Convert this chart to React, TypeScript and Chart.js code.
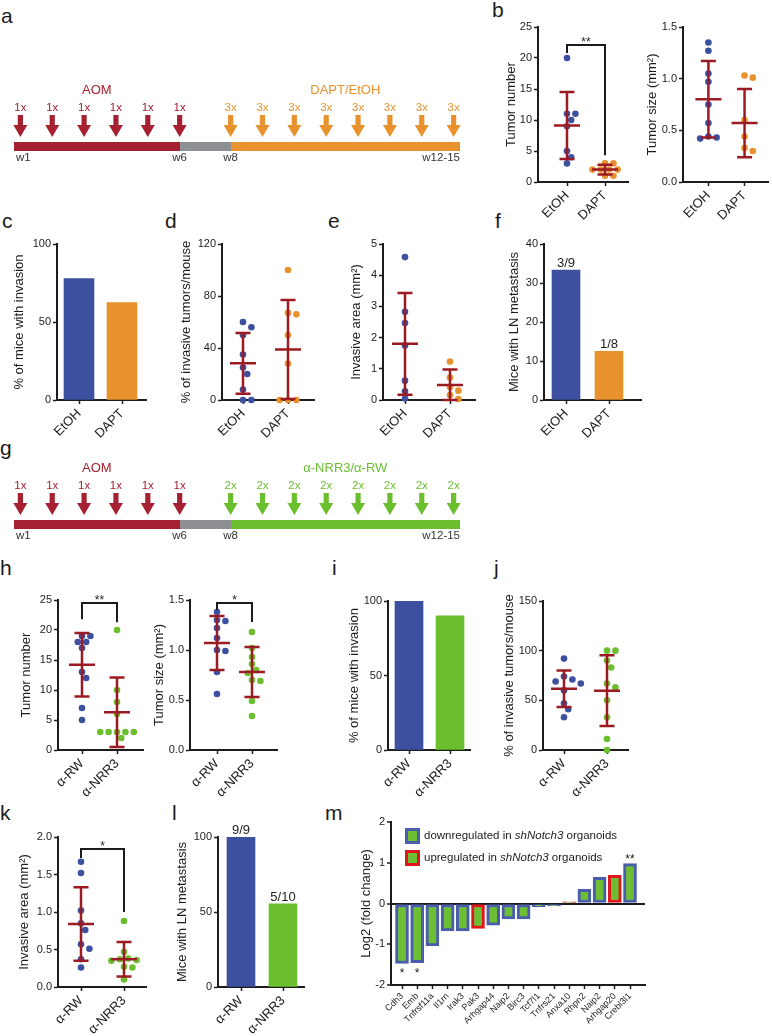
import React, { useEffect, useRef } from 'react';
import { Chart, registerables } from 'chart.js';

Chart.register(...registerables);

const FONT = "'Liberation Sans', Arial, Helvetica, sans-serif";
Chart.defaults.font.family = FONT;

const INK = '#1c1c1c';
const BLUE = '#3D4F9F';
const ORANGE = '#E8922E';
const GREEN = '#6BBF2F';
const SDRED = '#9C1B22';
const AOMRED = '#A52030';
const GREY = '#8E8F93';
const M_GREEN = '#6DBE33';
const M_BLUE = '#4A5CAC';
const M_RED = '#E0161D';

// ---------------- DATA ----------------
// a / g : treatment schedules (timeline units)
const aomArrowWeeks = [0.2, 1.2, 2.2, 3.2, 4.2, 5.2];
const treatArrowWeeks = [6.8, 7.8, 8.8, 9.8, 10.8, 11.8, 12.8, 13.8];
const timelineSegments: [number, number][] = [[0, 5.2], [5.2, 6.8], [6.8, 14]];
const weekTickLabels = ['w1', 'w6', 'w8', 'w12-15'];
const weekTickPositions = [0, 5.2, 6.8, 14];

const drugGroups = ['EtOH', 'DAPT'];
const antibodyGroups = ['α-RW', 'α-NRR3'];

// b
const tumorNumberEtOH = [20, 11, 11, 10, 9, 5, 4, 3];
const tumorNumberDAPT = [3, 3, 2, 2, 2, 2, 1, 1];
const tumorNumberDrugMean = [9.1, 2.0];
const tumorNumberDrugSD = [5.4, 0.8];
const tumorSizeEtOH = [1.35, 1.27, 1.05, 0.97, 0.75, 0.57, 0.44, 0.43, 0.42];
const tumorSizeDAPT = [1.03, 1.01, 0.6, 0.44, 0.33, 0.3];
const tumorSizeDrugMean = [0.8, 0.57];
const tumorSizeDrugSD = [0.37, 0.33];
// c
const invasionDrugPct = [77.8, 62.5];
// d
const invasiveTumorsEtOH = [60, 56, 50, 35, 25, 20, 8, 0, 0];
const invasiveTumorsDAPT = [100, 67, 66, 50, 28, 0, 0, 0];
const invasiveTumorsDrugMean = [28.2, 38.9];
const invasiveTumorsDrugSD = [23.3, 38.1];
// e
const invasiveAreaEtOH = [4.58, 2.83, 2.47, 1.75, 0.62, 0.28, 0.05];
const invasiveAreaDAPT = [1.23, 0.72, 0.42, 0.3, 0.16, 0.03];
const invasiveAreaDrugMean = [1.8, 0.48];
const invasiveAreaDrugSD = [1.63, 0.5];
// f
const lnMetDrugPct = [33.3, 12.5];
const lnMetDrugLabels = ['3/9', '1/8'];
// h
const tumorNumberRW = [19, 19, 18, 18, 17, 13, 12, 7, 5];
const tumorNumberNRR3 = [20, 10, 8, 6, 3, 3, 3, 3, 3, 2];
const tumorNumberAbMean = [14.2, 6.3];
const tumorNumberAbSD = [5.3, 5.8];
const tumorSizeRW = [1.38, 1.3, 1.29, 1.22, 1.12, 1.0, 0.99, 0.78, 0.56];
const tumorSizeNRR3 = [1.18, 1.02, 0.93, 0.86, 0.8, 0.77, 0.7, 0.69, 0.49, 0.34];
const tumorSizeAbMean = [1.07, 0.78];
const tumorSizeAbSD = [0.27, 0.25];
// i
const invasionAbPct = [100, 90];
// j
const invasiveTumorsRW = [92, 74, 71, 69, 67, 60, 47, 41, 33];
const invasiveTumorsNRR3 = [100, 100, 90, 83, 67, 63, 50, 33, 11, 0];
const invasiveTumorsAbMean = [61.6, 59.7];
const invasiveTumorsAbSD = [18.4, 35.6];
// k
const invasiveAreaRW = [1.67, 1.52, 1.02, 0.85, 0.76, 0.57, 0.51, 0.37, 0.26];
const invasiveAreaNRR3 = [0.88, 0.47, 0.38, 0.37, 0.36, 0.35, 0.27, 0.26, 0.1];
const invasiveAreaAbMean = [0.84, 0.37];
const invasiveAreaAbSD = [0.49, 0.23];
// l
const lnMetAbPct = [100, 55.5];
const lnMetAbLabels = ['9/9', '5/10'];
// m
const mGenes = ['Cdh3', 'Emb', 'Tnfrsf11a', 'Il1rn', 'Irak3', 'Pak3', 'Arhgap44', 'Naip2', 'Birc3', 'Tcf7l1', 'Tnfrs21', 'Anxa10', 'Rhpn2', 'Naip2', 'Arhgap20', 'Crebl3l1'];
const mLog2FC = [-1.47, -1.45, -1.04, -0.67, -0.67, -0.61, -0.53, -0.38, -0.38, -0.08, -0.06, 0.04, 0.35, 0.64, 0.69, 0.98];
const mRegulation = ['down', 'down', 'down', 'down', 'down', 'up', 'down', 'down', 'down', 'down', 'down', 'up', 'down', 'down', 'up', 'down'];
const mSignificance = ['*', '*', '', '', '', '', '', '', '', '', '', '', '', '', '', '**'];

// significance brackets (data units)
const bracketB = { top: 22.1, left: 20.8, right: 4.3, text: '**' };
const bracketHL = { top: 24.5, left: 21.8, right: 21.3, text: '**' };
const bracketHR = { top: 1.47, left: 1.4, right: 1.28, text: '*' };
const bracketK = { top: 1.84, left: 1.72, right: 1.0, text: '*' };

// ---------------- LAYOUT (page px) ----------------
const LAY: any = {
  bL: { canvas: [502, 5, 138, 235], plot: [538, 27, 628, 182], cats: [567, 605] },
  bR: { canvas: [643, 5, 129, 235], plot: [683, 27, 770, 182], cats: [709, 746] },
  c: { canvas: [10, 225, 145, 235], plot: [57, 244, 146, 400], cats: [79, 122] },
  d: { canvas: [177, 225, 148, 235], plot: [222, 244, 314, 400], cats: [243, 288] },
  e: { canvas: [347, 225, 138, 235], plot: [383, 244, 475, 400], cats: [405, 450] },
  f: { canvas: [505, 225, 150, 235], plot: [544, 244, 641, 400], cats: [566, 609] },
  hL: { canvas: [17, 585, 133, 240], plot: [58, 600, 143, 750], cats: [82, 117] },
  hR: { canvas: [150, 585, 135, 240], plot: [190, 600, 277, 750], cats: [217, 252] },
  i: { canvas: [345, 585, 133, 240], plot: [388, 601, 470, 750], cats: [409, 450] },
  j: { canvas: [500, 585, 140, 240], plot: [543, 601, 628, 750], cats: [564, 607] },
  k: { canvas: [15, 822, 140, 214], plot: [58, 837, 146, 987], cats: [81, 124] },
  l: { canvas: [173, 822, 139, 214], plot: [218, 837, 304, 987], cats: [241, 283] },
  m: { canvas: [357, 800, 303, 236], plot: [391, 822, 645, 985], cats: [402, 630] },
};

const DOT_R = 3.3;
const DOT_D = 7;

const panelLetters: [string, number, number][] = [
  ['a', 1, 23], ['b', 492, 17], ['c', 2, 228], ['d', 165, 228], ['e', 328, 228], ['f', 495, 228],
  ['g', 0, 455], ['h', 0, 575], ['i', 332, 575], ['j', 494, 575], ['k', 0, 820], ['l', 172, 820], ['m', 325, 820],
];

// ---------------- helpers ----------------
function swarmOffsets(values: number[], pxPerY: number, diam: number): number[] {
  const placed: { dx: number; py: number }[] = [];
  const step = diam * 0.6;
  return values.map((v) => {
    const py = v * pxPerY;
    for (let k = 0; k < 60; k++) {
      const cand = k === 0 ? 0 : (k % 2 === 1 ? 1 : -1) * Math.ceil(k / 2) * step;
      if (placed.every((p) => Math.hypot(p.dx - cand, p.py - py) >= diam)) {
        placed.push({ dx: cand, py });
        return cand;
      }
    }
    return 0;
  });
}

function frame(lay: any, yMin: number, yMax: number, step: number, decimals: number, yTitle: string,
  xMin: number, xMax: number, xTickValues: number[], xLabels: string[], xFontSize: number): any {
  const [cx, cy, cw, ch] = lay.canvas;
  const [x0, y0, x1, y1] = lay.plot;
  const yW = x0 - cx - 2;
  const xH = cy + ch - y1;
  const tickGrid = { display: true, drawOnChartArea: false, drawTicks: true, tickLength: 4, tickColor: INK, tickWidth: 1.5, offset: false };
  return {
    responsive: false,
    maintainAspectRatio: false,
    animation: false,
    events: [],
    layout: { padding: { left: 2, top: y0 - cy, right: cx + cw - x1, bottom: 0 } },
    plugins: { legend: { display: false }, tooltip: { enabled: false } },
    scales: {
      x: {
        type: 'linear', min: xMin, max: xMax, offset: false,
        afterBuildTicks: (s: any) => { s.ticks = xTickValues.map((v) => ({ value: v })); },
        afterFit: (s: any) => { s.height = xH; },
        ticks: {
          autoSkip: false, minRotation: 45, maxRotation: 45, padding: 2, color: INK,
          font: { family: FONT, size: xFontSize },
          callback: (v: any) => xLabels[xTickValues.indexOf(Number(v))],
        },
        grid: tickGrid,
        border: { display: true, color: INK, width: 2 },
      },
      y: {
        type: 'linear', min: yMin, max: yMax,
        afterFit: (s: any) => { s.width = yW; },
        ticks: { stepSize: step, padding: 2, color: INK, font: { family: FONT, size: 11 }, callback: (v: any) => Number(v).toFixed(decimals) },
        grid: tickGrid,
        border: { display: true, color: INK, width: 2 },
        title: { display: true, text: yTitle, color: INK, font: { family: FONT, size: 13 }, padding: 0 },
      },
    },
  };
}

function xRange(lay: any, n: number) {
  const [x0, , x1] = lay.plot;
  const [c1, c2] = lay.cats;
  const unit = (c2 - c1) / (n - 1);
  return { unit, xMin: 1 - (c1 - x0) / unit, xMax: n + (x1 - c2) / unit };
}

function meanSdPlugin(means: number[], sds: number[]) {
  return {
    id: 'meanSd',
    afterDatasetsDraw(chart: any) {
      const { ctx, scales: { x, y } } = chart;
      ctx.save();
      ctx.strokeStyle = SDRED;
      ctx.lineWidth = 2.5;
      means.forEach((m, i) => {
        const px = x.getPixelForValue(i + 1);
        const hi = y.getPixelForValue(m + sds[i]);
        const lo = y.getPixelForValue(Math.max(0, m - sds[i]));
        const pm = y.getPixelForValue(m);
        ctx.beginPath();
        ctx.moveTo(px, hi); ctx.lineTo(px, lo);
        ctx.moveTo(px - 7.5, hi); ctx.lineTo(px + 7.5, hi);
        ctx.moveTo(px - 7.5, lo); ctx.lineTo(px + 7.5, lo);
        ctx.moveTo(px - 13, pm); ctx.lineTo(px + 13, pm);
        ctx.stroke();
      });
      ctx.restore();
    },
  };
}

function bracketPlugin(b: any) {
  return {
    id: 'bracket',
    afterDatasetsDraw(chart: any) {
      const { ctx, scales: { x, y } } = chart;
      const xa = x.getPixelForValue(1);
      const xb = x.getPixelForValue(2);
      const yt = y.getPixelForValue(b.top);
      ctx.save();
      ctx.strokeStyle = INK;
      ctx.lineWidth = 2;
      ctx.beginPath();
      ctx.moveTo(xa, y.getPixelForValue(b.left));
      ctx.lineTo(xa, yt);
      ctx.lineTo(xb, yt);
      ctx.lineTo(xb, y.getPixelForValue(b.right));
      ctx.stroke();
      ctx.fillStyle = INK;
      ctx.font = `12px ${FONT}`;
      ctx.textAlign = 'center';
      ctx.textBaseline = 'alphabetic';
      ctx.fillText(b.text, (xa + xb) / 2, yt + 1);
      ctx.restore();
    },
  };
}

function barLabelPlugin(labels: string[]) {
  return {
    id: 'barLabels',
    afterDatasetsDraw(chart: any) {
      const ctx = chart.ctx;
      const meta = chart.getDatasetMeta(0);
      ctx.save();
      ctx.fillStyle = INK;
      ctx.font = `13px ${FONT}`;
      ctx.textAlign = 'center';
      ctx.textBaseline = 'alphabetic';
      meta.data.forEach((el: any, i: number) => ctx.fillText(labels[i], el.x, el.y - 3));
      ctx.restore();
    },
  };
}

function dotConfig(lay: any, groups: number[][], colors: string[], means: number[], sds: number[],
  yMax: number, step: number, decimals: number, yTitle: string, labels: string[], bracket?: any) {
  const { unit, xMin, xMax } = xRange(lay, 2);
  const [, y0, , y1] = lay.plot;
  const pxPerY = (y1 - y0) / yMax;
  const datasets = groups.map((vals, gi) => {
    const offs = swarmOffsets(vals, pxPerY, DOT_D);
    return {
      type: 'scatter',
      data: vals.map((v, k) => ({ x: gi + 1 + offs[k] / unit, y: v })),
      backgroundColor: colors[gi],
      borderWidth: 0,
      pointRadius: DOT_R,
      clip: false,
    };
  });
  const plugins: any[] = [meanSdPlugin(means, sds)];
  if (bracket) plugins.push(bracketPlugin(bracket));
  return {
    type: 'scatter',
    data: { datasets },
    options: frame(lay, 0, yMax, step, decimals, yTitle, xMin, xMax, [1, 2], labels, 13),
    plugins,
  };
}

function barConfig(lay: any, values: number[], colors: string[], yMax: number, step: number,
  yTitle: string, labels: string[], barWidth: number, valueLabels?: string[]) {
  const { xMin, xMax } = xRange(lay, 2);
  return {
    type: 'bar',
    data: {
      datasets: [{
        data: values.map((v, i) => ({ x: i + 1, y: v })),
        backgroundColor: colors,
        borderWidth: 0,
        barThickness: barWidth,
      }],
    },
    options: frame(lay, 0, yMax, step, 0, yTitle, xMin, xMax, [1, 2], labels, 13),
    plugins: valueLabels ? [barLabelPlugin(valueLabels)] : [],
  };
}

const mLegendItems = [
  { color: M_BLUE, parts: ['downregulated in ', 'shNotch3', ' organoids'] },
  { color: M_RED, parts: ['upregulated in ', 'shNotch3', ' organoids'] },
];

const mLegendPlugin = {
  id: 'mLegend',
  afterDraw(chart: any) {
    const { ctx, chartArea } = chart;
    ctx.save();
    mLegendItems.forEach((item, i) => {
      const x = chartArea.left + 14;
      const y = chartArea.top + 6 + i * 22;
      ctx.fillStyle = item.color;
      ctx.fillRect(x, y, 15, 16);
      ctx.fillStyle = M_GREEN;
      ctx.fillRect(x + 3, y + 3, 9, 10);
      let tx = x + 19;
      ctx.textBaseline = 'middle';
      ctx.textAlign = 'left';
      ctx.fillStyle = INK;
      item.parts.forEach((p, k) => {
        ctx.font = `${k === 1 ? 'italic ' : ''}11.5px ${FONT}`;
        ctx.fillText(p, tx, y + 8);
        tx += ctx.measureText(p).width;
      });
    });
    ctx.restore();
  },
};

const mStarsPlugin = {
  id: 'mStars',
  afterDatasetsDraw(chart: any) {
    const { ctx } = chart;
    const meta = chart.getDatasetMeta(0);
    ctx.save();
    ctx.fillStyle = INK;
    ctx.font = `12px ${FONT}`;
    ctx.textAlign = 'center';
    ctx.textBaseline = 'alphabetic';
    meta.data.forEach((el: any, i: number) => {
      const s = mSignificance[i];
      if (!s) return;
      if (mLog2FC[i] < 0) ctx.fillText(s, el.x, el.y + 14);
      else ctx.fillText(s, el.x, el.y - 1);
    });
    ctx.restore();
  },
};

function mConfig() {
  const lay = LAY.m;
  const [x0, , x1] = lay.plot;
  const n = mGenes.length;
  const unit = (lay.cats[1] - lay.cats[0]) / (n - 1);
  const xMin = -(lay.cats[0] - x0) / unit;
  const xMax = n - 1 + (x1 - lay.cats[1]) / unit;
  const ticks = mGenes.map((_, i) => i);
  const opts = frame(lay, -2, 2, 1, 0, 'Log2 (fold change)', xMin, xMax, ticks, mGenes, 9);
  opts.scales.y.grid = {
    display: true, drawOnChartArea: true, drawTicks: true, tickLength: 4, tickColor: INK, tickWidth: 1.5,
    lineWidth: 2, color: (c: any) => (c.tick && c.tick.value === 0 ? INK : 'rgba(0,0,0,0)'),
  };
  return {
    type: 'bar',
    data: {
      datasets: [{
        data: mLog2FC.map((v, i) => ({ x: i, y: v })),
        backgroundColor: M_GREEN,
        borderColor: mRegulation.map((r) => (r === 'up' ? M_RED : M_BLUE)),
        borderWidth: 3,
        borderSkipped: false,
        barThickness: 13,
      }],
    },
    options: opts,
    plugins: [mStarsPlugin, mLegendPlugin],
  };
}

function timelinePlugin(treatColor: string, treatTitle: string, treatDose: string) {
  return {
    id: 'timeline',
    afterDatasetsDraw(chart: any) {
      const { ctx, chartArea: { top, bottom } } = chart;
      const x = chart.scales.x;
      const arrow = (px: number, color: string) => {
        const tip = top - 5;
        const headTop = tip - 12;
        const tail = tip - 22;
        ctx.fillStyle = color;
        ctx.beginPath();
        ctx.moveTo(px - 2.6, tail);
        ctx.lineTo(px + 2.6, tail);
        ctx.lineTo(px + 2.6, headTop);
        ctx.lineTo(px + 7, headTop);
        ctx.lineTo(px, tip);
        ctx.lineTo(px - 7, headTop);
        ctx.lineTo(px - 2.6, headTop);
        ctx.closePath();
        ctx.fill();
      };
      ctx.save();
      ctx.textBaseline = 'middle';
      ctx.textAlign = 'center';
      aomArrowWeeks.forEach((w) => {
        const px = x.getPixelForValue(w);
        arrow(px, AOMRED);
        ctx.fillStyle = AOMRED;
        ctx.font = `11.5px ${FONT}`;
        ctx.fillText('1x', px, top - 34);
      });
      treatArrowWeeks.forEach((w) => {
        const px = x.getPixelForValue(w);
        arrow(px, treatColor);
        ctx.fillStyle = treatColor;
        ctx.font = `11.5px ${FONT}`;
        ctx.fillText(treatDose, px, top - 34);
      });
      ctx.font = `13px ${FONT}`;
      ctx.fillStyle = AOMRED;
      ctx.fillText('AOM', x.getPixelForValue((timelineSegments[0][0] + timelineSegments[0][1]) / 2), top - 52);
      ctx.fillStyle = treatColor;
      ctx.fillText(treatTitle, x.getPixelForValue((timelineSegments[2][0] + timelineSegments[2][1]) / 2), top - 52);
      ctx.font = `11.5px ${FONT}`;
      ctx.fillStyle = '#333';
      weekTickLabels.forEach((t, i) => {
        ctx.textAlign = i === 0 ? 'left' : i === weekTickLabels.length - 1 ? 'right' : 'center';
        ctx.fillText(t, x.getPixelForValue(weekTickPositions[i]) + (i === 0 ? 2 : 0), bottom + 7);
      });
      ctx.restore();
    },
  };
}

function timelineConfig(treatColor: string, treatTitle: string, treatDose: string) {
  const colors = [AOMRED, GREY, treatColor];
  return {
    type: 'bar',
    data: {
      labels: [''],
      datasets: timelineSegments.map((seg, i) => ({
        data: [seg],
        backgroundColor: colors[i],
        borderWidth: 0,
        grouped: false,
        barThickness: 9,
      })),
    },
    options: {
      indexAxis: 'y',
      responsive: false,
      maintainAspectRatio: false,
      animation: false,
      events: [],
      layout: { padding: { left: 14, right: 10, top: 72, bottom: 19 } },
      scales: { x: { display: false, min: 0, max: 14 }, y: { display: false } },
      plugins: { legend: { display: false }, tooltip: { enabled: false } },
    },
    plugins: [timelinePlugin(treatColor, treatTitle, treatDose)],
  };
}

// ---------------- components ----------------
function ChartBox({ rect, build }: { rect: number[]; build: () => any }) {
  const ref = useRef<HTMLCanvasElement | null>(null);
  useEffect(() => {
    if (!ref.current) return;
    const chart = new Chart(ref.current, build());
    return () => chart.destroy();
  }, []);
  const [x, y, w, h] = rect;
  return (
    <canvas
      ref={ref}
      width={w}
      height={h}
      style={{ position: 'absolute', left: x, top: y, width: w, height: h }}
    />
  );
}

export default function App() {
  return (
    <div style={{ position: 'absolute', left: 0, top: 0, width: 772, height: 1036, background: '#fff', overflow: 'hidden' }}>
      {panelLetters.map(([t, x, base]) => (
        <div
          key={t}
          style={{ position: 'absolute', left: x, top: base - 17.8, fontFamily: FONT, fontSize: 21, lineHeight: '21px', color: INK }}
        >
          {t}
        </div>
      ))}
      <ChartBox rect={[0, 70, 470, 100]} build={() => timelineConfig(ORANGE, 'DAPT/EtOH', '3x')} />
      <ChartBox rect={[0, 448, 470, 100]} build={() => timelineConfig(GREEN, 'α-NRR3/α-RW', '2x')} />

      <ChartBox rect={LAY.bL.canvas} build={() => dotConfig(LAY.bL, [tumorNumberEtOH, tumorNumberDAPT], [BLUE, ORANGE], tumorNumberDrugMean, tumorNumberDrugSD, 25, 5, 0, 'Tumor number', drugGroups, bracketB)} />
      <ChartBox rect={LAY.bR.canvas} build={() => dotConfig(LAY.bR, [tumorSizeEtOH, tumorSizeDAPT], [BLUE, ORANGE], tumorSizeDrugMean, tumorSizeDrugSD, 1.5, 0.5, 1, 'Tumor size (mm²)', drugGroups)} />

      <ChartBox rect={LAY.c.canvas} build={() => barConfig(LAY.c, invasionDrugPct, [BLUE, ORANGE], 100, 50, '% of mice with invasion', drugGroups, 30)} />
      <ChartBox rect={LAY.d.canvas} build={() => dotConfig(LAY.d, [invasiveTumorsEtOH, invasiveTumorsDAPT], [BLUE, ORANGE], invasiveTumorsDrugMean, invasiveTumorsDrugSD, 120, 40, 0, '% of invasive tumors/mouse', drugGroups)} />
      <ChartBox rect={LAY.e.canvas} build={() => dotConfig(LAY.e, [invasiveAreaEtOH, invasiveAreaDAPT], [BLUE, ORANGE], invasiveAreaDrugMean, invasiveAreaDrugSD, 5, 1, 0, 'Invasive area (mm²)', drugGroups)} />
      <ChartBox rect={LAY.f.canvas} build={() => barConfig(LAY.f, lnMetDrugPct, [BLUE, ORANGE], 40, 10, 'Mice with LN metastasis', drugGroups, 28, lnMetDrugLabels)} />

      <ChartBox rect={LAY.hL.canvas} build={() => dotConfig(LAY.hL, [tumorNumberRW, tumorNumberNRR3], [BLUE, GREEN], tumorNumberAbMean, tumorNumberAbSD, 25, 5, 0, 'Tumor number', antibodyGroups, bracketHL)} />
      <ChartBox rect={LAY.hR.canvas} build={() => dotConfig(LAY.hR, [tumorSizeRW, tumorSizeNRR3], [BLUE, GREEN], tumorSizeAbMean, tumorSizeAbSD, 1.5, 0.5, 1, 'Tumor size (mm²)', antibodyGroups, bracketHR)} />
      <ChartBox rect={LAY.i.canvas} build={() => barConfig(LAY.i, invasionAbPct, [BLUE, GREEN], 100, 50, '% of mice with invasion', antibodyGroups, 28)} />
      <ChartBox rect={LAY.j.canvas} build={() => dotConfig(LAY.j, [invasiveTumorsRW, invasiveTumorsNRR3], [BLUE, GREEN], invasiveTumorsAbMean, invasiveTumorsAbSD, 150, 50, 0, '% of invasive tumors/mouse', antibodyGroups)} />

      <ChartBox rect={LAY.k.canvas} build={() => dotConfig(LAY.k, [invasiveAreaRW, invasiveAreaNRR3], [BLUE, GREEN], invasiveAreaAbMean, invasiveAreaAbSD, 2, 0.5, 1, 'Invasive area (mm²)', antibodyGroups, bracketK)} />
      <ChartBox rect={LAY.l.canvas} build={() => barConfig(LAY.l, lnMetAbPct, [BLUE, GREEN], 100, 50, 'Mice with LN metastasis', antibodyGroups, 28, lnMetAbLabels)} />
      <ChartBox rect={LAY.m.canvas} build={mConfig} />
    </div>
  );
}
